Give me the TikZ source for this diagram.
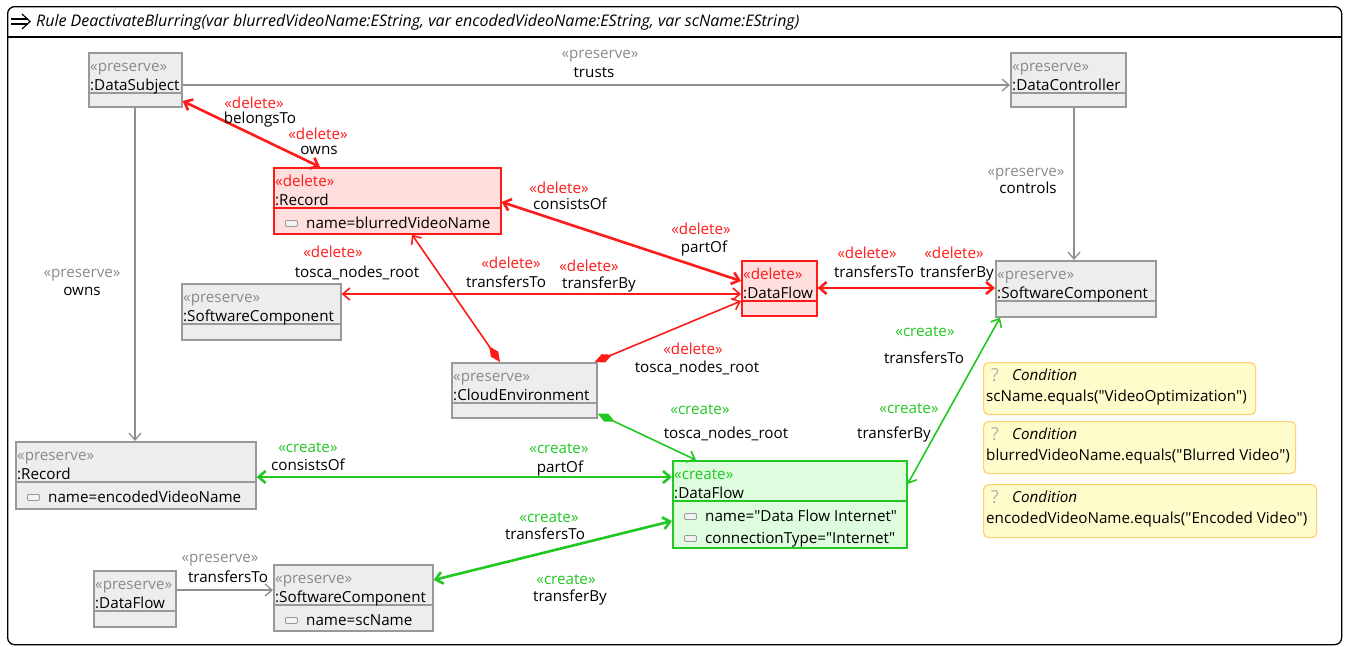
\documentclass[tikz,border=0pt]{standalone}
\usepackage{fontspec}
\setmainfont{Open Sans}
\usetikzlibrary{arrows.meta,calc}

\definecolor{boxline}{HTML}{999999}
\definecolor{boxfill}{HTML}{EDEDED}
\definecolor{delred}{HTML}{FF1A1A}
\definecolor{delfill}{HTML}{FFDEDE}
\definecolor{newgreen}{HTML}{22C822}
\definecolor{newfill}{HTML}{DEFCDE}
\definecolor{stgray}{HTML}{8A8A8A}
\definecolor{edgegray}{HTML}{8F8F8F}
\definecolor{condfill}{HTML}{FFFCCB}
\definecolor{condline}{HTML}{FFCF70}

\newcommand\strq{\textquotedbl}

\begin{document}
\fontsize{15.2}{17}\selectfont
\begin{tikzpicture}[x=1pt, y=-1pt,
    obj/.style={draw=boxline, fill=boxfill, line width=1.6pt, anchor=north west, inner sep=0pt},
    del obj/.style={obj, draw=delred, fill=delfill},
    new obj/.style={obj, draw=newgreen, fill=newfill},
    cond/.style={obj, draw=condline, fill=condfill, line width=1.2pt, rounded corners=5pt},
    txt/.style={anchor=base west, inner sep=0pt},
    st preserve/.style={txt, text=stgray},
    st delete/.style={txt, text=delred},
    st create/.style={txt, text=newgreen},
    icon/.style={draw=boxline, fill=black!5, line width=0.8pt, rounded corners=1pt, anchor=north west,
      minimum width=12pt, minimum height=6pt, inner sep=0pt},
    lbl/.style={anchor=base, inner sep=0pt},
    lp/.style={lbl, text=stgray},
    ld/.style={lbl, text=delred},
    lc/.style={lbl, text=newgreen},
    ln/.style={lbl},
    barb/.tip={Straight Barb[length=7pt,width=12pt]},
    dia/.tip={Diamond[length=19pt,width=9pt]},
    keep/.style={draw=edgegray, line width=1.3pt},
    gone/.style={draw=delred, line width=1.6pt},
    gone2/.style={draw=delred, line width=2.6pt},
    made/.style={draw=newgreen, line width=1.6pt},
    made2/.style={draw=newgreen, line width=2.6pt}]

  \useasboundingbox (0,0) rectangle (1348,646);

  % rule frame and title
  \node[draw=black, line width=1.3pt, rounded corners=7pt, anchor=north west,
    minimum width=1334pt, minimum height=638pt, inner sep=0pt] (frame) at (7,6) {};
  \draw[line width=1.3pt] ([shift={(0,31)}]frame.north west) -- ([shift={(0,31)}]frame.north east);
  \draw[line width=1.2pt] (11,19) -- (28,19) (11,24) -- (28,24);
  \draw[line width=1.2pt] (22,14) -- (30,21.5) -- (22,29);
  \node[txt, font=\fontsize{16}{18}\selectfont\itshape] (title) at (36,26.5)
    {Rule DeactivateBlurring(var blurredVideoName:EString, var encodedVideoName:EString, var scName:EString)};

  % objects
  \node[obj, minimum width=93pt, minimum height=54pt] (ds) at (88,52) {};
  \node[obj, minimum width=115pt, minimum height=54pt] (dc) at (1010,52) {};
  \node[del obj, minimum width=227pt, minimum height=66pt] (rec1) at (273,167) {};
  \node[obj, minimum width=159pt, minimum height=56pt] (sc1) at (181,283) {};
  \node[del obj, minimum width=75pt, minimum height=55pt] (df1) at (741,260) {};
  \node[obj, minimum width=160pt, minimum height=56pt] (sc2) at (995,260) {};
  \node[obj, minimum width=145pt, minimum height=55pt] (ce) at (451,362) {};
  \node[obj, minimum width=240pt, minimum height=67pt] (rec2) at (15,441) {};
  \node[new obj, minimum width=234pt, minimum height=87pt] (df2) at (672,460) {};
  \node[obj, minimum width=82pt, minimum height=56pt] (df3) at (93,570) {};
  \node[obj, minimum width=159pt, minimum height=66pt] (sc3) at (273,564) {};

  \foreach \b in {ds,dc,sc1,sc2,ce,rec2,df3,sc3}
    \draw[boxline, line width=1.6pt] ([shift={(0,41)}]\b.north west) -- ([shift={(0,41)}]\b.north east);
  \foreach \b in {rec1,df1}
    \draw[delred, line width=1.6pt] ([shift={(0,41)}]\b.north west) -- ([shift={(0,41)}]\b.north east);
  \draw[newgreen, line width=1.6pt] ([shift={(0,41)}]df2.north west) -- ([shift={(0,41)}]df2.north east);

  \foreach \b/\k/\t in {ds/preserve/DataSubject, dc/preserve/DataController, rec1/delete/Record,
      sc1/preserve/SoftwareComponent, df1/delete/DataFlow, sc2/preserve/SoftwareComponent,
      ce/preserve/CloudEnvironment, rec2/preserve/Record, df2/create/DataFlow,
      df3/preserve/DataFlow, sc3/preserve/SoftwareComponent} {
    \node[st \k] (\b-k) at ([shift={(2,19)}]\b.north west) {«\k»};
    \node[txt] (\b-t) at ([shift={(2,38)}]\b.north west) {:\t};
  }

  % attributes
  \foreach \b/\i/\y/\a in {rec1/1/61/{name=blurredVideoName}, rec2/1/61/{name=encodedVideoName},
      df2/1/61/{name=\strq Data Flow Internet\strq}, df2/2/83/{connectionType=\strq Internet\strq},
      sc3/1/61/{name=scName}} {
    \node[icon] (\b-i\i) at ([shift={(12,\y-8)}]\b.north west) {};
    \node[txt] (\b-a\i) at ([shift={(33,\y)}]\b.north west) {\a};
  }

  % conditions
  \node[cond, minimum width=272pt, minimum height=52pt] (c1) at (983,362) {};
  \node[cond, minimum width=312pt, minimum height=52pt] (c2) at (983,421) {};
  \node[cond, minimum width=333pt, minimum height=53pt] (c3) at (983,484) {};
  \foreach \c/\e in {c1/{scName.equals(\strq VideoOptimization\strq)},
      c2/{blurredVideoName.equals(\strq Blurred Video\strq)},
      c3/{encodedVideoName.equals(\strq Encoded Video\strq)}} {
    \node[txt, text=black!30, font=\fontsize{18}{20}\selectfont] (\c-q) at ([shift={(8,19)}]\c.north west) {?};
    \node[txt, font=\itshape] (\c-h) at ([shift={(29,18)}]\c.north west) {Condition};
    \node[txt] (\c-e) at ([shift={(3,39)}]\c.north west) {\e};
  }

  % references
  \path ([shift={(0,33)}]ds.north east) edge[keep, -barb] ([shift={(0,33)}]dc.north west)
    ([shift={(0,49)}]ds.north east) edge[gone2, barb-barb] ([shift={(47,0)}]rec1.north west)
    ([shift={(0,35)}]rec1.north east) edge[gone2, barb-barb] ([shift={(0,21)}]df1.north west)
    ([shift={(49,0)}]ce.north west) edge[gone, dia-barb] ([shift={(139,0)}]rec1.south west)
    ([shift={(-3,0)}]ce.north east) edge[gone, dia-barb] ([shift={(0,41)}]df1.north west)
    ([shift={(0,11)}]sc1.north east) edge[gone, barb-barb] ([shift={(0,34)}]df1.north west)
    ([shift={(0,28)}]df1.north east) edge[gone2, barb-barb] ([shift={(0,28)}]sc2.north west)
    ([shift={(64,0)}]dc.south west) edge[keep, -barb] ([shift={(79,0)}]sc2.north west)
    ([shift={(47,0)}]ds.south west) edge[keep, -barb] ([shift={(120,0)}]rec2.north west)
    ([shift={(0,-5)}]ce.south east) edge[made, dia-barb] ([shift={(24,0)}]df2.north west)
    ([shift={(0,36)}]rec2.north east) edge[made2, barb-barb] ([shift={(0,17)}]df2.north west)
    ([shift={(5,0)}]sc2.south west) edge[made, barb-barb] ([shift={(0,24)}]df2.north east)
    ([shift={(0,16)}]sc3.north east) edge[made2, barb-barb] ([shift={(0,61)}]df2.north west)
    ([shift={(0,20)}]df3.north east) edge[keep, -barb] ([shift={(0,26)}]sc3.north west);

  % reference labels
  \foreach \x/\y/\s/\t [count=\i] in {
      600/58/lp/«preserve», 594/77/ln/trusts,
      254/108/ld/«delete», 260/123/ln/belongsTo, 318/139/ld/«delete», 319/154/ln/owns,
      559/193/ld/«delete», 570/209/ln/consistsOf, 701/234/ld/«delete», 704/252/ln/partOf,
      333/257/ld/«delete», 357/277/ln/tosca\_nodes\_root,
      511/268/ld/«delete», 506/287/ln/transfersTo, 589/271/ld/«delete», 599/288/ln/transferBy,
      693/354/ld/«delete», 697/372/ln/tosca\_nodes\_root,
      867/258/ld/«delete», 874/277/ln/transfersTo, 954/258/ld/«delete», 957/277/ln/transferBy,
      1026/176/lp/«preserve», 1028/193/ln/controls,
      82/277/lp/«preserve», 82/295/ln/owns,
      700/414/lc/«create», 726/438/ln/tosca\_nodes\_root,
      308/452/lc/«create», 308/470/ln/consistsOf, 559/453/lc/«create», 560/472/ln/partOf,
      925/336/lc/«create», 924/363/ln/transfersTo, 909/413/lc/«create», 894/438/ln/transferBy,
      549/522/lc/«create», 545/539/ln/transfersTo, 566/584/lc/«create», 570/601/ln/transferBy,
      220/562/lp/«preserve», 228/582/ln/transfersTo}
    \node[\s] (lab\i) at (\x,\y) {\t};
\end{tikzpicture}
\end{document}
